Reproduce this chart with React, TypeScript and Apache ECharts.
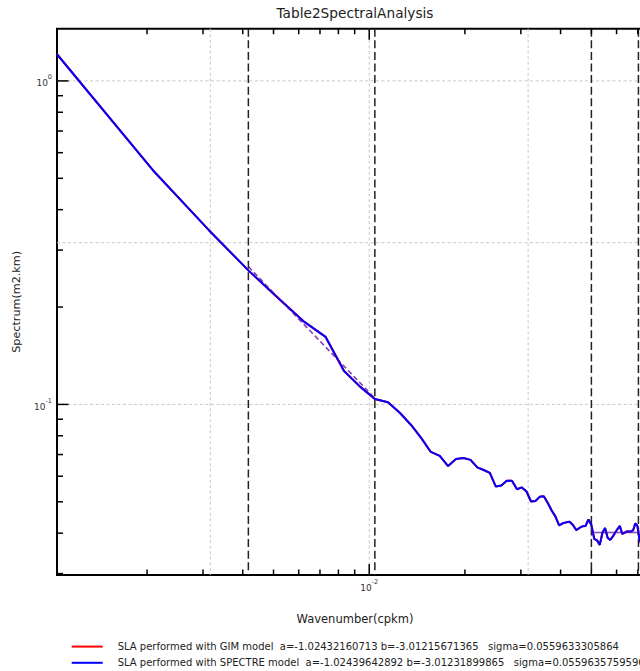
import React, { useEffect, useRef } from 'react';
import * as echarts from 'echarts';

// ---- data ----
const wavenumbers = [
  0.0010417, 0.0020833, 0.003125, 0.0041667, 0.0052083, 0.00625, 0.0072917, 0.0083333, 0.009375, 0.0104167,
  0.0114583, 0.0125, 0.0135417, 0.0145833, 0.015625, 0.0166667, 0.0177083, 0.01875, 0.0197917, 0.0208333,
  0.021875, 0.0229167, 0.0239583, 0.025, 0.0260417, 0.0270833, 0.028125, 0.0291667, 0.0302083, 0.03125,
  0.0322917, 0.0333333, 0.034375, 0.0354167, 0.0364583, 0.0375, 0.0385417, 0.0395833, 0.040625, 0.0416667,
  0.0427083, 0.04375, 0.0447917, 0.0458333, 0.046875, 0.0479167, 0.0489583, 0.05, 0.0510417, 0.0520833,
  0.053125, 0.0541667, 0.0552083, 0.05625, 0.0572917, 0.0583333, 0.059375, 0.0604167, 0.0614583, 0.0625,
  0.0635417, 0.0645833, 0.065625, 0.0666667, 0.0677083, 0.06875, 0.0697917, 0.0708333, 0.071875,
];

const spectreSpectrum = [
  1.209, 0.5306, 0.3462, 0.2596, 0.2119, 0.1799, 0.1617, 0.1269, 0.1133, 0.104,
  0.1016, 0.0941, 0.0864, 0.0787, 0.0713, 0.0693, 0.0645, 0.0678, 0.0683, 0.0674,
  0.0639, 0.0627, 0.0614, 0.0558, 0.0562, 0.0581, 0.0581, 0.0547, 0.0554, 0.0538,
  0.0501, 0.0503, 0.0518, 0.052, 0.0496, 0.047, 0.045, 0.0423, 0.0429, 0.0432,
  0.0434, 0.0424, 0.0409, 0.0415, 0.042, 0.0421, 0.0441, 0.0424, 0.0384, 0.038,
  0.0368, 0.0401, 0.0415, 0.0387, 0.0381, 0.039, 0.0401, 0.0412, 0.0421, 0.0398,
  0.0401, 0.0405, 0.0405, 0.0405, 0.0409, 0.0429, 0.0421, 0.0383, 0.0368,
];

// GIM curve lies under the SPECTRE curve (indistinguishable in the picture)
const gimSpectrum = [
  1.209, 0.5306, 0.3462, 0.2596, 0.2119, 0.1799, 0.1617, 0.1269, 0.1133, 0.104,
  0.1016, 0.0941, 0.0864, 0.0787, 0.0713, 0.0693, 0.0645, 0.0678, 0.0683, 0.0674,
  0.0639, 0.0627, 0.0614, 0.0558, 0.0562, 0.0581, 0.0581, 0.0547, 0.0554, 0.0538,
  0.0501, 0.0503, 0.0518, 0.052, 0.0496, 0.047, 0.045, 0.0423, 0.0429, 0.0432,
  0.0434, 0.0424, 0.0409, 0.0415, 0.042, 0.0421, 0.0441, 0.0424, 0.0384, 0.038,
  0.0368, 0.0401, 0.0415, 0.0387, 0.0381, 0.039, 0.0401, 0.0412, 0.0421, 0.0398,
  0.0401, 0.0405, 0.0405, 0.0405, 0.0409, 0.0429, 0.0421, 0.0383, 0.0368,
];

const NB = '\u00a0';
const gimName = `SLA performed with GIM model${NB}${NB}a=-1.02432160713 b=-3.01215671365${NB}${NB}${NB}sigma=0.0559633305864`;
const spectreName = `SLA performed with SPECTRE model${NB}${NB}a=-1.02439642892 b=-3.01231899865${NB}${NB}${NB}sigma=0.0559635759596`;

const slopeFitX = [0.0041667, 0.0104167];
const slopeFitY = [0.2667, 0.1045];
const noiseFitX = [0.05, 0.0703];
const noiseFitY = [0.0402, 0.0402];

const cutoffLines = [0.0041667, 0.0104167, 0.05, 0.0703];
const xGridValues = [0.0031623, 0.01, 0.031623];
const yGridValues = [1, 0.31623, 0.1];
const xMajorTicks = [0.01];
const xMinorTicks = [0.002, 0.003, 0.004, 0.005, 0.006, 0.007, 0.008, 0.009, 0.02, 0.03, 0.04, 0.05, 0.06, 0.07];
const yMajorTicks = [1, 0.1];
const yMinorTicks = [0.9, 0.8, 0.7, 0.6, 0.5, 0.4, 0.3, 0.2, 0.09, 0.08, 0.07, 0.06, 0.05, 0.04, 0.03];

const X_MIN = 0.0010417;
const X_MAX = 0.078125;
const Y_MIN = 0.0297;
const Y_MAX = 1.45;

const title = 'Table2SpectralAnalysis';
const xName = 'Wavenumber(cpkm)';
const yName = 'Spectrum(m2.km)';

const pairs = (xs: number[], ys: number[]) => xs.map((x, i) => [x, ys[i]]);

const powerLabel = (v: number) => {
  const e = Math.log10(v);
  const r = Math.round(e);
  if (Math.abs(e - r) > 1e-6) return '';
  return `{b|10}{s|${r === 0 ? 0 : r}}`;
};

const labelRich = {
  b: { fontFamily: 'DejaVu Sans', fontSize: 9, color: '#333', lineHeight: 14, verticalAlign: 'bottom' },
  s: { fontFamily: 'DejaVu Sans', fontSize: 6.5, color: '#333', lineHeight: 7, verticalAlign: 'top' },
};

const vLine = (style: any) => (params: any, api: any) => {
  const cs = params.coordSys;
  const x = api.coord([api.value(0), api.value(1)])[0];
  return { type: 'line', shape: { x1: x, y1: cs.y, x2: x, y2: cs.y + cs.height }, style };
};
const hLine = (style: any) => (params: any, api: any) => {
  const cs = params.coordSys;
  const y = api.coord([api.value(0), api.value(1)])[1];
  return { type: 'line', shape: { x1: cs.x, y1: y, x2: cs.x + cs.width, y2: y }, style };
};
const tickStyle = { stroke: '#000', lineWidth: 1.5 };
const xTick = (len: number) => (params: any, api: any) => {
  const cs = params.coordSys;
  const x = api.coord([api.value(0), api.value(1)])[0];
  const top = cs.y;
  const bottom = cs.y + cs.height;
  return {
    type: 'group',
    children: [
      { type: 'line', shape: { x1: x, y1: bottom, x2: x, y2: bottom - len }, style: tickStyle },
      { type: 'line', shape: { x1: x, y1: top, x2: x, y2: top + len }, style: tickStyle },
    ],
  };
};
const yTick = (len: number) => (params: any, api: any) => {
  const cs = params.coordSys;
  const y = api.coord([api.value(0), api.value(1)])[1];
  const left = cs.x;
  const right = cs.x + cs.width;
  return {
    type: 'group',
    children: [
      { type: 'line', shape: { x1: left, y1: y, x2: left + len, y2: y }, style: tickStyle },
      { type: 'line', shape: { x1: right, y1: y, x2: right - len, y2: y }, style: tickStyle },
    ],
  };
};

const custom = (name: string, data: number[][], renderItem: any, z: number) => ({
  type: 'custom',
  name,
  data,
  renderItem,
  silent: true,
  z,
  clip: false,
});

export default function App() {
  const ref = useRef<HTMLDivElement>(null);
  useEffect(() => {
    if (!ref.current) return;
    const chart = echarts.init(ref.current, undefined, { renderer: 'svg' });
    const gridStyle = { stroke: '#c8c8c8', lineWidth: 1, lineDash: [3, 2.5] };
    chart.setOption({
      animation: false,
      backgroundColor: '#fff',
      title: {
        text: title,
        left: 'center',
        top: 5,
        padding: 0,
        textStyle: { fontFamily: 'DejaVu Sans', fontSize: 13.7, fontWeight: 'normal', color: '#222', lineHeight: 16 },
      },
      grid: {
        left: 57,
        right: 57,
        top: 28.7,
        bottom: 96,
        show: true,
        borderColor: '#000',
        borderWidth: 2,
        backgroundColor: 'transparent',
        containLabel: false,
        outerBoundsMode: 'none',
      },
      legend: {
        data: [gimName, spectreName],
        orient: 'vertical',
        left: 70.7,
        top: 641,
        padding: 0,
        itemWidth: 31,
        itemHeight: 14,
        itemGap: 5,
        selectedMode: false,
        itemStyle: { opacity: 0 },
        lineStyle: { width: 2 },
        textStyle: {
          fontFamily: 'DejaVu Sans',
          fontSize: 10,
          color: '#222',
          padding: [0, 0, 0, 10],
        },
      },
      xAxis: {
        type: 'log',
        logBase: 10,
        min: X_MIN,
        max: X_MAX,
        name: xName,
        nameLocation: 'middle',
        nameGap: 38,
        nameMoveOverlap: false,
        nameTextStyle: { fontFamily: 'DejaVu Sans', fontSize: 11.5, color: '#222' },
        axisLine: { show: false },
        axisTick: { show: false },
        splitLine: { show: false },
        minorTick: { show: false },
        axisLabel: { margin: 3.5, formatter: powerLabel, rich: labelRich },
      },
      yAxis: {
        type: 'log',
        logBase: 10,
        min: Y_MIN,
        max: Y_MAX,
        name: yName,
        nameLocation: 'middle',
        nameGap: 35,
        nameMoveOverlap: false,
        nameTextStyle: { fontFamily: 'DejaVu Sans', fontSize: 11.2, color: '#222' },
        axisLine: { show: false },
        axisTick: { show: false },
        splitLine: { show: false },
        minorTick: { show: false },
        axisLabel: { margin: 5, formatter: powerLabel, rich: labelRich },
      },
      series: [
        custom('yGrid', yGridValues.map((v) => [X_MIN, v]), hLine(gridStyle), 1),
        custom('xGrid', xGridValues.map((v) => [v, Y_MIN]), vLine(gridStyle), 1),
        custom('cutoffs', cutoffLines.map((v) => [v, Y_MIN]), vLine({ stroke: '#222', lineWidth: 1.5, lineDash: [8, 3.6] }), 2),
        {
          type: 'line',
          name: gimName,
          data: pairs(wavenumbers, gimSpectrum),
          color: '#ff2020',
          symbol: 'none',
          showSymbol: false,
          lineStyle: { color: '#ff0000', width: 2 },
          z: 3,
        },
        {
          type: 'line',
          name: spectreName,
          data: pairs(wavenumbers, spectreSpectrum),
          color: '#0000ff',
          symbol: 'none',
          showSymbol: false,
          lineStyle: { color: '#0000ff', width: 2 },
          z: 3,
        },
        {
          type: 'line',
          name: 'GIM slope fit',
          data: pairs(slopeFitX, slopeFitY),
          symbol: 'none',
          lineStyle: { color: '#ff0000', width: 1.5, type: [5, 3], opacity: 0.5 },
          z: 4,
        },
        {
          type: 'line',
          name: 'SPECTRE slope fit',
          data: pairs(slopeFitX, slopeFitY),
          symbol: 'none',
          lineStyle: { color: '#0000ff', width: 1.5, type: [5, 3], opacity: 0.5 },
          z: 4,
        },
        {
          type: 'line',
          name: 'GIM noise fit',
          data: pairs(noiseFitX, noiseFitY),
          symbol: 'none',
          lineStyle: { color: '#ff0000', width: 1.5, opacity: 0.35 },
          z: 4,
        },
        {
          type: 'line',
          name: 'SPECTRE noise fit',
          data: pairs(noiseFitX, noiseFitY),
          symbol: 'none',
          lineStyle: { color: '#0000ff', width: 1.5, opacity: 0.5 },
          z: 4,
        },
        custom('xMajorTicks', xMajorTicks.map((v) => [v, Y_MIN]), xTick(11), 5),
        custom('xMinorTicks', xMinorTicks.map((v) => [v, Y_MIN]), xTick(5.5), 5),
        custom('yMajorTicks', yMajorTicks.map((v) => [X_MIN, v]), yTick(11.5), 5),
        custom('yMinorTicks', yMinorTicks.map((v) => [X_MIN, v]), yTick(6), 5),
      ],
    });
    return () => chart.dispose();
  }, []);
  return (
    <div style={{ position: 'absolute', left: 0, top: 0, width: 640, height: 671, overflow: 'hidden', background: '#fff' }}>
      <div ref={ref} style={{ width: 710, height: 671 }} />
    </div>
  );
}
